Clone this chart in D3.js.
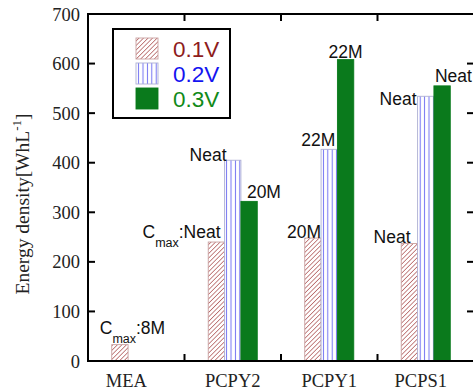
<!DOCTYPE html>
<html>
<head>
<meta charset="utf-8">
<script src="https://cdn.jsdelivr.net/npm/d3@7"></script>
<style>
  html, body { margin: 0; padding: 0; background: #fff; }
  svg { display: block; }
</style>
</head>
<body>
<svg id="chart" width="473" height="390"></svg>
<script>
// Energy density per electrolyte, at three cut-off voltages
const categories = ["MEA", "PCPY2", "PCPY1", "PCPS1"];
const seriesNames = ["0.1V", "0.2V", "0.3V"];
const values01 = [33, 240, 248, 237];
const values02 = [null, 405, 427, 534];
const values03 = [null, 322, 608, 555];
const yTicks = [0, 100, 200, 300, 400, 500, 600, 700];

// Concentration notes written over the bars: [category, series, main text, subscript, text after]
const notes = [
  ["MEA",   "0.1V", "C", "max", ":8M"],
  ["PCPY2", "0.1V", "C", "max", ":Neat"],
  ["PCPY2", "0.2V", "Neat", "", ""],
  ["PCPY2", "0.3V", "20M", "", ""],
  ["PCPY1", "0.1V", "20M", "", ""],
  ["PCPY1", "0.2V", "22M", "", ""],
  ["PCPY1", "0.3V", "22M", "", ""],
  ["PCPS1", "0.1V", "Neat", "", ""],
  ["PCPS1", "0.2V", "Neat", "", ""],
  ["PCPS1", "0.3V", "Neat", "", ""]
];
// How each note sits against its bar: [anchor edge, text-anchor, dx, dy]
const notePlacement = [
  ["left",   "start",  -12, -11],
  ["right",  "end",     -4,  -4],
  ["left",   "end",      2,   1],
  ["left",   "start",    6,  -3],
  ["right",  "end",      0,   0],
  ["right",  "end",     -2,  -3],
  ["center", "middle",   0,  -2],
  ["right",  "end",     -7,  -1],
  ["left",   "end",     -1,   9],
  ["left",   "start",    1,  -4]
];

const seriesValues = [values01, values02, values03];
const legendColors = ["#8e1c1c", "#1414f0", "#118a18"];

const svg = d3.select("#chart");
const plot = { left: 88, right: 474, top: 14, bottom: 361 };

const x = d3.scaleBand().domain(categories).range([plot.left, plot.right]).padding(0);
const groupWidth = x.bandwidth() * 0.508;
const xs = d3.scaleBand().domain(seriesNames).range([0, groupWidth]).padding(0);
const y = d3.scaleLinear().domain([0, 700]).range([plot.bottom, plot.top]);

// Fill patterns
const defs = svg.append("defs");
const hatch = defs.append("pattern")
  .attr("id", "hatch").attr("patternUnits", "userSpaceOnUse")
  .attr("width", 3.2).attr("height", 3.2)
  .attr("patternTransform", "rotate(45)");
hatch.append("rect").attr("width", 3.2).attr("height", 3.2).attr("fill", "#fff");
hatch.append("line").attr("x1", 0).attr("y1", 0).attr("x2", 0).attr("y2", 3.2)
  .attr("stroke", "#ab4e4e").attr("stroke-width", 1.35);

const vlines = defs.append("pattern")
  .attr("id", "vlines").attr("patternUnits", "userSpaceOnUse")
  .attr("width", 4.4).attr("height", 10);
vlines.append("rect").attr("width", 4.4).attr("height", 10).attr("fill", "#fff");
vlines.append("line").attr("x1", 2.2).attr("y1", 0).attr("x2", 2.2).attr("y2", 10)
  .attr("stroke", "#7272f2").attr("stroke-width", 1);

const fills = ["url(#hatch)", "url(#vlines)", "#0a7a1c"];
const strokes = ["#c9a0a0", "#aeb0d4", "#0a7a1c"];

function barX(cat, s) {
  return x(cat) + (x.bandwidth() - groupWidth) / 2 + xs(s);
}

// Bars
const barData = [];
categories.forEach((c, ci) => {
  seriesNames.forEach((s, si) => {
    const v = seriesValues[si][ci];
    if (v !== null) barData.push({ cat: c, series: s, si, value: v });
  });
});

svg.append("g").selectAll("rect")
  .data(barData)
  .join("rect")
  .attr("x", d => barX(d.cat, d.series))
  .attr("y", d => y(d.value))
  .attr("width", xs.bandwidth())
  .attr("height", d => y(0) - y(d.value))
  .attr("fill", d => fills[d.si])
  .attr("stroke", d => strokes[d.si])
  .attr("stroke-width", 0.9);

// Frame and ticks
const frame = svg.append("g").attr("stroke", "#000").attr("fill", "none");
frame.append("rect")
  .attr("x", plot.left).attr("y", plot.top)
  .attr("width", plot.right - plot.left).attr("height", plot.bottom - plot.top)
  .attr("stroke-width", 2);

const tickLen = 7;
yTicks.slice(1, -1).forEach(t => {
  frame.append("line").attr("x1", plot.left).attr("x2", plot.left + tickLen)
    .attr("y1", y(t)).attr("y2", y(t)).attr("stroke-width", 2);
  frame.append("line").attr("x1", plot.right).attr("x2", plot.right - tickLen)
    .attr("y1", y(t)).attr("y2", y(t)).attr("stroke-width", 2);
});
categories.slice(1).forEach(c => {
  const bx = x(c);
  frame.append("line").attr("x1", bx).attr("x2", bx)
    .attr("y1", plot.bottom).attr("y2", plot.bottom - tickLen).attr("stroke-width", 2);
  frame.append("line").attr("x1", bx).attr("x2", bx)
    .attr("y1", plot.top).attr("y2", plot.top + tickLen).attr("stroke-width", 2);
});

// Y tick labels
const serif = "'Liberation Serif', 'Times New Roman', serif";
const sans = "'Liberation Sans', Arial, sans-serif";

svg.append("g").selectAll("text")
  .data(yTicks)
  .join("text")
  .attr("x", 80)
  .attr("y", d => y(d) + 6.5)
  .attr("text-anchor", "end")
  .attr("font-family", serif)
  .attr("font-size", 18.5)
  .attr("fill", "#222")
  .text(d => d);

// Category labels
svg.append("g").selectAll("text")
  .data(categories)
  .join("text")
  .attr("x", d => x(d) + x.bandwidth() / 2 - (d === "MEA" ? 10 : d === "PCPS1" ? 5 : 0))
  .attr("y", 387)
  .attr("text-anchor", "middle")
  .attr("font-family", serif)
  .attr("font-size", 18.5)
  .attr("fill", "#222")
  .text(d => d);

// Y axis title
const yTitle = svg.append("text")
  .attr("transform", "translate(29,204) rotate(-90)")
  .attr("text-anchor", "middle")
  .attr("font-family", serif)
  .attr("font-size", 19.5)
  .attr("fill", "#222");
yTitle.append("tspan").text("Energy density[WhL");
yTitle.append("tspan").attr("dy", -8).attr("font-size", 13).text("-1");
yTitle.append("tspan").attr("dy", 8).text("]");

// Notes over bars
const noteG = svg.append("g")
  .attr("font-family", sans)
  .attr("font-size", 17.5)
  .attr("fill", "#111");
notes.forEach((n, i) => {
  const [cat, s, main, sub, rest] = n;
  const [edge, anchor, dx, dy] = notePlacement[i];
  const si = seriesNames.indexOf(s);
  const v = seriesValues[si][categories.indexOf(cat)];
  const bx = barX(cat, s);
  const ex = edge === "left" ? bx : edge === "right" ? bx + xs.bandwidth() : bx + xs.bandwidth() / 2;
  const t = noteG.append("text")
    .attr("x", ex + dx)
    .attr("y", y(v) + dy)
    .attr("text-anchor", anchor);
  t.append("tspan").text(main);
  if (sub) {
    t.append("tspan").attr("dy", 9).attr("font-size", 12.5).text(sub);
    t.append("tspan").attr("dy", -9).text(rest);
  }
});

// Legend
const lg = svg.append("g");
lg.append("rect").attr("x", 113).attr("y", 29).attr("width", 117).attr("height", 89)
  .attr("fill", "#fff").attr("stroke", "#000").attr("stroke-width", 2);
seriesNames.forEach((s, i) => {
  const ry = 38 + i * 25;
  lg.append("rect").attr("x", 136).attr("y", ry).attr("width", 22).attr("height", 21)
    .attr("fill", fills[i]).attr("stroke", strokes[i]).attr("stroke-width", 0.9);
  lg.append("text").attr("x", 173).attr("y", ry + 19)
    .attr("font-family", sans).attr("font-size", 22.5)
    .attr("fill", legendColors[i]).text(s);
});
</script>
</body>
</html>
